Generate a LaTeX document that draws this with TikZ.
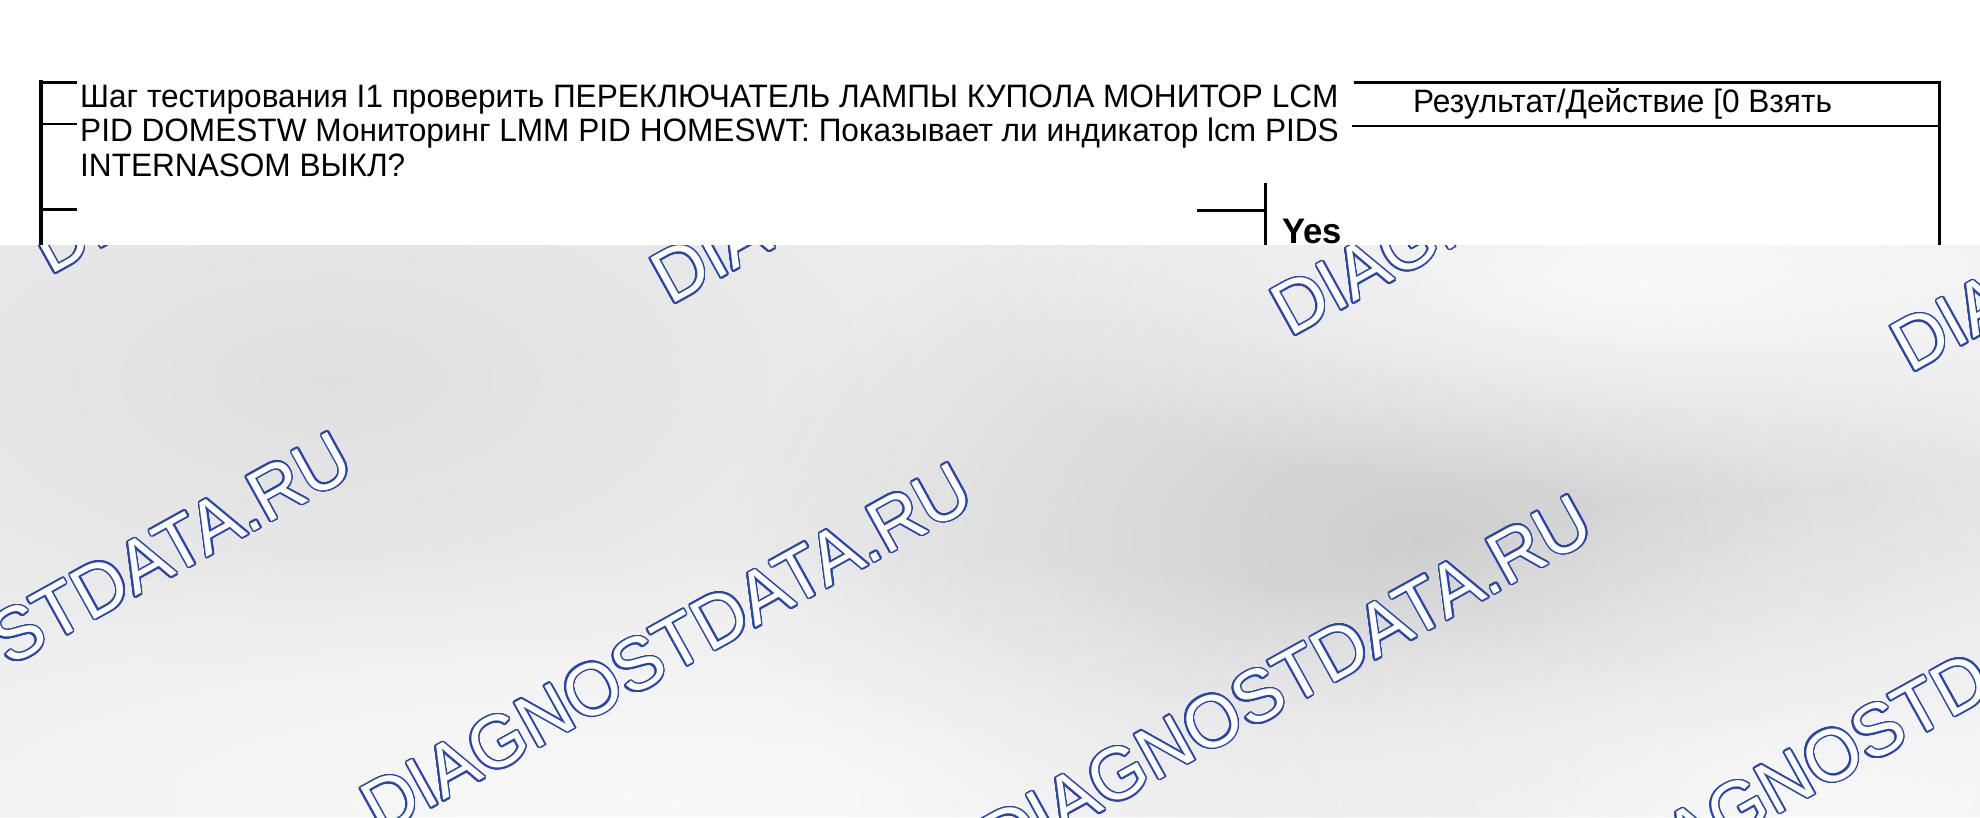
\documentclass[tikz,border=0pt]{standalone}
\usepackage{fontspec}
\setmainfont{Liberation Sans}[FakeStretch=0.975]
\usepackage{contour}
\usetikzlibrary{fadings}

\definecolor{wmblue}{RGB}{38,70,172}
\definecolor{bggray}{RGB}{236,236,237}
\contourlength{1.6pt}
\contournumber{24}

\tikzfading[name=softblob, inner color=transparent!0, outer color=transparent!100]

\tikzset{
  rule/.style={line width=3pt},
  thinrule/.style={line width=1.6pt},
  steptext/.style={anchor=base west, inner sep=0pt, font=\fontsize{32.4}{36}\selectfont},
  wmark/.style={anchor=base west, inner sep=0pt, rotate=29, font=\fontsize{74}{80}\selectfont},
}

\begin{document}
\begin{tikzpicture}[x=1pt, y=-1pt]
  \useasboundingbox (0,0) rectangle (1980,817);
  \fill[white] (0,0) rectangle (1980,245);

  \begin{scope}
    \clip (0,245) rectangle (1980,817);
    \fill[bggray] (0,245) rectangle (1980,817);
    \fill[black, opacity=0.13, path fading=softblob] (1420,540) ellipse (700 and 400);
    \fill[black, opacity=0.05, path fading=softblob] (330,380) ellipse (600 and 300);
    \fill[white, opacity=0.7, path fading=softblob] (650,800) ellipse (1200 and 260);
    \fill[white, opacity=0.7, path fading=softblob] (1800,790) ellipse (700 and 300);
    \fill[white, opacity=0.8, path fading=softblob] (1640,280) ellipse (700 and 220);
    \foreach \x/\y [count=\i] in {50/276, 670/306, 1290/338, 1910/374,
                                  -240/805, 380/836, 1000/868, 1620/902}
      \node[wmark] (wm\i) at (\x,\y) {\contour{wmblue}{\color{white}DIAGNOSTDATA.RU}};
  \end{scope}

  \node[steptext] (step1) at (80,107) {Шаг тестирования I1 проверить ПЕРЕКЛЮЧАТЕЛЬ ЛАМПЫ КУПОЛА МОНИТОР LCM};
  \node[steptext] (step2) at (80,141) {PID DOMESTW Мониторинг LMM PID HOMESWT: Показывает ли индикатор lcm PIDS};
  \node[steptext] (step3) at (80,176) {INTERNASOM ВЫКЛ?};
  \node[steptext] (result) at (1413,112) {Результат/Действие [0 Взять};
  \node[steptext, font=\bfseries\fontsize{35.5}{40}\selectfont] (yes) at (1282,243) {Yes};

  \draw[line width=4pt] (41,80) -- (41,245);
  \draw[rule] (41,82) -- (77,82);
  \draw[thinrule] (41,124) -- (77,124);
  \draw[rule] (41,209) -- (77,209);

  \draw[rule] (1354,82) -- (1939,82) -- (1939,245);
  \draw[line width=2.5pt] (1352,126) -- (1939,126);

  \draw[rule] (1197,210) -- (1265,210);
  \draw[rule] (1265,183) -- (1265,245);
\end{tikzpicture}
\end{document}
